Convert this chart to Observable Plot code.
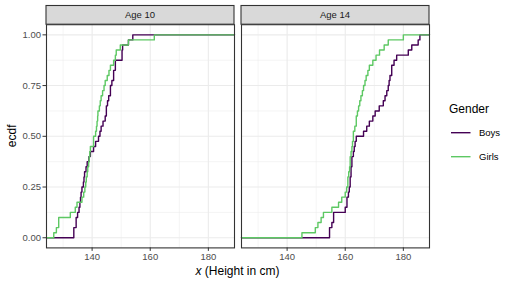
<!DOCTYPE html>
<html><head><meta charset="utf-8">
<script src="https://cdn.jsdelivr.net/npm/d3@7"></script>
<script src="https://cdn.jsdelivr.net/npm/@observablehq/plot@0.6"></script>
<style>body{margin:0;background:#fff}</style>
</head><body><div id="chart"></div>
<script>
// ---- data (heights in cm) ----
const ages = [10, 14];
const genders = ["Boys", "Girls"];
const genderColors = ["#440154", "#5DC863"];
const boys10 = [133.7,133.7,134.5,134.5,135.0,135.5,135.8,136.0,136.2,136.5,137.0,137.2,137.4,137.9,138.3,138.9,139.4,140.5,141.2,142.2,142.7,143.1,143.75,144.5,144.9,144.9,145.3,145.7,146.3,146.3,146.8,147.4,147.4,148.0,148.0,150.3,150.3,150.5,152.5,154.0];
const girls10 = [126.8,127.7,128.5,128.5,132.5,134.2,134.8,136.5,137.1,137.5,137.8,138.0,138.3,138.5,138.8,139.0,139.2,139.4,140.5,140.5,141.2,141.5,141.7,141.9,142.0,142.5,142.8,143.1,143.6,144.1,144.5,145.2,145.8,146.3,147.4,148.0,148.3,149.7,152.5,161.4];
const boys14 = [154.6,154.6,155.4,156.0,156.0,160.0,160.6,160.6,161.1,161.4,161.7,161.7,162.0,162.0,162.3,162.3,162.8,163.1,163.4,163.8,166.3,167.4,168.3,169.5,170.3,171.7,173.1,173.7,174.3,174.8,175.1,175.4,176.0,176.0,176.8,177.7,181.7,182.9,185.1,185.7];
const girls14 = [145.1,149.7,150.6,151.7,152.5,155.4,157.7,158.8,160.0,160.5,160.9,160.9,161.2,161.5,161.7,161.7,162.0,162.3,162.5,162.8,162.8,163.3,163.8,163.8,164.2,164.6,165.0,165.4,165.9,166.3,166.8,167.2,167.8,168.3,169.5,170.6,171.8,173.4,174.8,180.0];
const xTicks = [140, 160, 180];
const xMinor = [130, 150, 170];
const yTicks = [0, 0.25, 0.5, 0.75, 1];
const yMinor = [0.125, 0.375, 0.625, 0.875];
const xDomain = [124.3, 189.0];
const yDomain = [-0.05, 1.05];

// ---- ecdf table ----
const groups = [
  {age: 10, gender: "Boys", values: boys10},
  {age: 10, gender: "Girls", values: girls10},
  {age: 14, gender: "Boys", values: boys14},
  {age: 14, gender: "Girls", values: girls14}
];
const rows = [];
for (const g of groups) {
  const s = [...g.values].sort((a, b) => a - b);
  const n = s.length;
  rows.push({age: g.age, gender: g.gender, x: xDomain[0], y: 0});
  s.forEach((v, i) => rows.push({age: g.age, gender: g.gender, x: v, y: (i + 1) / n}));
  rows.push({age: g.age, gender: g.gender, x: xDomain[1], y: 1});
}

const FONT = "'Liberation Sans', Arial, Helvetica, sans-serif";
const W = 513, H = 286, mT = 24.2, mB = 38.6, mL = 46, mR = 83;

const plot = Plot.plot({
  width: W, height: H,
  marginLeft: mL, marginRight: mR, marginTop: mT, marginBottom: mB,
  style: {fontFamily: FONT, fontSize: "9.5px", background: "#fff", overflow: "visible"},
  x: {domain: xDomain, label: null},
  y: {domain: yDomain, label: null},
  fx: {domain: ages, paddingInner: 0.034, paddingOuter: 0, label: null, axis: null},
  color: {domain: genders, range: genderColors},
  marks: [
    Plot.ruleX(xMinor, {stroke: "#EBEBEB", strokeWidth: 0.55}),
    Plot.ruleY(yMinor, {stroke: "#EBEBEB", strokeWidth: 0.55}),
    Plot.ruleX(xTicks, {stroke: "#EBEBEB", strokeWidth: 1.1}),
    Plot.ruleY(yTicks, {stroke: "#EBEBEB", strokeWidth: 1.1}),
    Plot.line(rows, {fx: "age", x: "x", y: "y", z: "gender", stroke: "gender", curve: "step-after", strokeWidth: 1.4}),
    Plot.frame({stroke: "#333333", strokeWidth: 1.1}),
    Plot.axisX({ticks: xTicks, tickSize: 3.5, tickPadding: 2, stroke: "#333333", fill: "#4D4D4D", label: null}),
    Plot.axisY({ticks: yTicks, tickFormat: d3.format(".2f"), tickSize: 3.5, tickPadding: 2, stroke: "#333333", fill: "#4D4D4D", label: null})
  ]
});

document.getElementById("chart").appendChild(plot);

// ---- strips, axis titles and legend ----
const svg = d3.select(plot);
const fx = plot.scale("fx");
const color = plot.scale("color");
const bw = fx.bandwidth;
const stripTop = 5.5;
const strips = svg.append("g");
ages.forEach(a => {
  const x0 = fx.apply(a);
  strips.append("rect").attr("x", x0).attr("y", stripTop).attr("width", bw).attr("height", mT - stripTop)
    .attr("fill", "#D9D9D9").attr("stroke", "#333333").attr("stroke-width", 1.1);
  strips.append("text").attr("x", x0 + bw / 2).attr("y", (stripTop + mT) / 2).attr("dy", "0.35em")
    .attr("text-anchor", "middle").attr("fill", "#1A1A1A").style("font-size", "9.5px").text("Age " + a);
});

const panelLeft = fx.apply(ages[0]);
const panelRight = fx.apply(ages[ages.length - 1]) + bw;
const xt = svg.append("text").attr("x", (panelLeft + panelRight) / 2).attr("y", 274.5)
  .attr("text-anchor", "middle").attr("fill", "#000").style("font-size", "12px");
xt.append("tspan").style("font-style", "italic").text("x");
xt.append("tspan").text(" (Height in cm)");

svg.append("text").attr("transform", `translate(15.5,${(mT + H - mB) / 2}) rotate(-90)`)
  .attr("text-anchor", "middle").attr("fill", "#000").style("font-size", "12px").text("ecdf");

const lg = svg.append("g").attr("text-anchor", "start");
lg.append("text").attr("x", 449).attr("y", 113).attr("text-anchor", "start").attr("fill", "#000").style("font-size", "12px").text("Gender");
genders.forEach((g, i) => {
  const y = 132.7 + i * 24;
  lg.append("line").attr("x1", 451).attr("x2", 470.5).attr("y1", y).attr("y2", y)
    .attr("stroke", color.apply(g)).attr("stroke-width", 1.4);
  lg.append("text").attr("x", 479).attr("y", y).attr("dy", "0.35em").attr("text-anchor", "start").attr("fill", "#000")
    .style("font-size", "9.5px").text(g);
});
</script>
</body></html>
